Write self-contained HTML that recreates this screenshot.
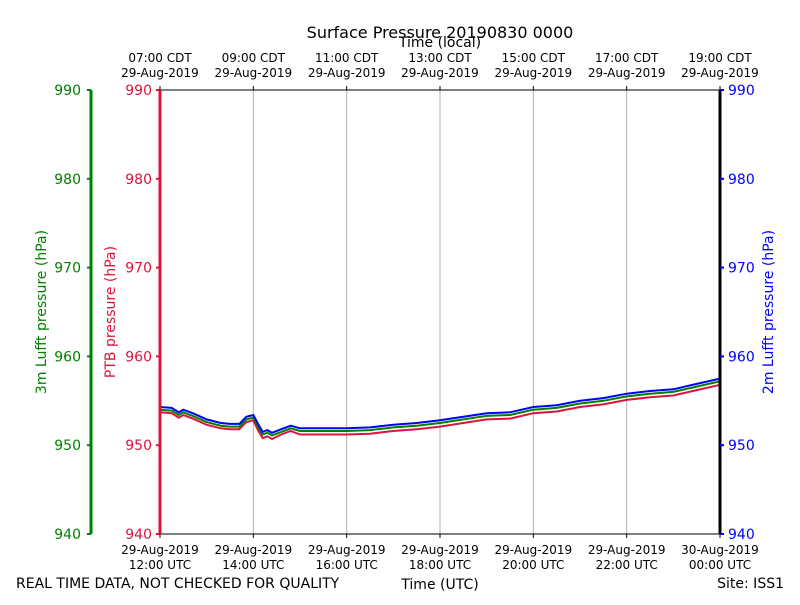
<!DOCTYPE html>
<html><head><meta charset="utf-8"><style>body{margin:0;background:#fff}svg text{font-family:"DejaVu Sans","Liberation Sans",sans-serif}</style></head>
<body>
<svg id="c" width="800" height="600" xmlns="http://www.w3.org/2000/svg"></svg>
<script>
const hours=[0,0.25,0.4,0.5,0.7,1.0,1.3,1.5,1.7,1.85,2.0,2.1,2.2,2.3,2.4,2.6,2.8,3.0,3.5,4.0,4.5,5.0,5.5,6.0,6.5,7.0,7.5,8.0,8.5,9.0,9.5,10.0,10.5,11.0,11.5,12.0];
const blue2m=[954.3,954.2,953.7,954.0,953.6,952.9,952.5,952.4,952.4,953.2,953.4,952.4,951.5,951.7,951.4,951.8,952.2,951.9,951.9,951.9,952.0,952.3,952.5,952.8,953.2,953.6,953.7,954.3,954.5,955.0,955.3,955.8,956.1,956.3,956.9,957.5];
const green3m=[954.0,953.9,953.4,953.7,953.3,952.6,952.2,952.1,952.1,952.9,953.1,952.1,951.2,951.4,951.1,951.5,951.9,951.6,951.6,951.6,951.7,952.0,952.2,952.5,952.9,953.3,953.4,954.0,954.2,954.7,955.0,955.5,955.8,956.0,956.6,957.2];
const redPTB=[953.7,953.6,953.1,953.4,953.0,952.3,951.9,951.8,951.8,952.6,952.8,951.7,950.8,951.0,950.7,951.2,951.6,951.2,951.2,951.2,951.3,951.6,951.8,952.1,952.5,952.9,953.0,953.6,953.8,954.3,954.6,955.1,955.4,955.6,956.2,956.8];
const yTicks=[940,950,960,970,980,990];
const utcLabels=[["29-Aug-2019","12:00 UTC"],["29-Aug-2019","14:00 UTC"],["29-Aug-2019","16:00 UTC"],["29-Aug-2019","18:00 UTC"],["29-Aug-2019","20:00 UTC"],["29-Aug-2019","22:00 UTC"],["30-Aug-2019","00:00 UTC"]];
const cdtLabels=[["07:00 CDT","29-Aug-2019"],["09:00 CDT","29-Aug-2019"],["11:00 CDT","29-Aug-2019"],["13:00 CDT","29-Aug-2019"],["15:00 CDT","29-Aug-2019"],["17:00 CDT","29-Aug-2019"],["19:00 CDT","29-Aug-2019"]];
const X0=160,X1=720,Y0=534,Y1=90;
const xs=h=>X0+h/12*(X1-X0);
const ys=p=>Y0-(p-940)/50*(Y0-Y1);
const svg=document.getElementById('c');
const NS='http://www.w3.org/2000/svg';
function mk(t,a,txt){const e=document.createElementNS(NS,t);for(const k in a)e.setAttribute(k,a[k]);if(txt!==undefined)e.textContent=txt;svg.appendChild(e);return e;}
// grid
for(let i=1;i<6;i++){const g=mk('line',{x1:xs(i*2),x2:xs(i*2),y1:Y1,y2:Y0,stroke:'#b0b0b0','stroke-width':1});

}
// series
function series(vals,color,name){const d=hours.map((h,i)=>(i?'L':'M')+xs(h).toFixed(1)+','+ys(vals[i]).toFixed(1)).join('');
const p=mk('path',{d:d,fill:'none',stroke:color,'stroke-width':2});

}
series(redPTB,'#dc143c','ptb-pressure-line');
series(green3m,'#008000','lufft-3m-pressure-line');
series(blue2m,'#0000ff','lufft-2m-pressure-line');
// frame
let f=mk('line',{x1:X0,x2:X1,y1:Y1,y2:Y1,stroke:'#000'});
f=mk('line',{x1:X0,x2:X1,y1:Y0,y2:Y0,stroke:'#000'});
f=mk('line',{x1:X0,x2:X0,y1:Y1,y2:Y0,stroke:'#dc143c','stroke-width':3});
f=mk('line',{x1:91,x2:91,y1:Y1,y2:Y0,stroke:'#008000','stroke-width':3});
f=mk('line',{x1:X1,x2:X1,y1:Y1,y2:Y0,stroke:'#000','stroke-width':3});
// y ticks
yTicks.forEach(v=>{const y=ys(v);
let t=mk('line',{x1:X0-4,x2:X0,y1:y,y2:y,stroke:'#dc143c','stroke-width':2});
t=mk('text',{x:X0-8,y:y+5,'text-anchor':'end','font-size':14,fill:'#dc143c'},v);
t=mk('line',{x1:87,x2:91,y1:y,y2:y,stroke:'#008000','stroke-width':2});
t=mk('text',{x:81,y:y+5,'text-anchor':'end','font-size':14,fill:'#008000'},v);
t=mk('line',{x1:X1,x2:X1+4,y1:y,y2:y,stroke:'#0000ff','stroke-width':2});
t=mk('text',{x:X1+8,y:y+5,'font-size':14,fill:'#0000ff'},v);});
// x ticks
utcLabels.forEach((l,i)=>{const x=xs(i*2);
let t=mk('line',{x1:x,x2:x,y1:Y0,y2:Y0+4,stroke:'#000'});
t=mk('text',{x:x,y:554,'text-anchor':'middle','font-size':12},l[0]);
t=mk('text',{x:x,y:569,'text-anchor':'middle','font-size':12},l[1]);});
cdtLabels.forEach((l,i)=>{const x=xs(i*2);
let t=mk('line',{x1:x,x2:x,y1:Y1-4,y2:Y1,stroke:'#000'});
t=mk('text',{x:x,y:62,'text-anchor':'middle','font-size':12},l[0]);
t=mk('text',{x:x,y:77,'text-anchor':'middle','font-size':12},l[1]);});
</script>
<svg width="800" height="600" style="position:absolute;left:0;top:0" xmlns="http://www.w3.org/2000/svg">
<text x="440" y="38" text-anchor="middle" font-size="16">Surface Pressure 20190830 0000</text>
<text x="440" y="47" text-anchor="middle" font-size="14">Time (local)</text>
<text x="440" y="589" text-anchor="middle" font-size="14">Time (UTC)</text>
<text x="16" y="588" font-size="14">REAL TIME DATA, NOT CHECKED FOR QUALITY</text>
<text x="784" y="588" text-anchor="end" font-size="14">Site: ISS1</text>
<text transform="translate(46,312) rotate(-90)" text-anchor="middle" font-size="14" fill="#008000">3m Lufft pressure (hPa)</text>
<text transform="translate(115,312) rotate(-90)" text-anchor="middle" font-size="14" fill="#dc143c">PTB pressure (hPa)</text>
<text transform="translate(773,312) rotate(-90)" text-anchor="middle" font-size="14" fill="#0000ff">2m Lufft pressure (hPa)</text>
</svg>
</body></html>
